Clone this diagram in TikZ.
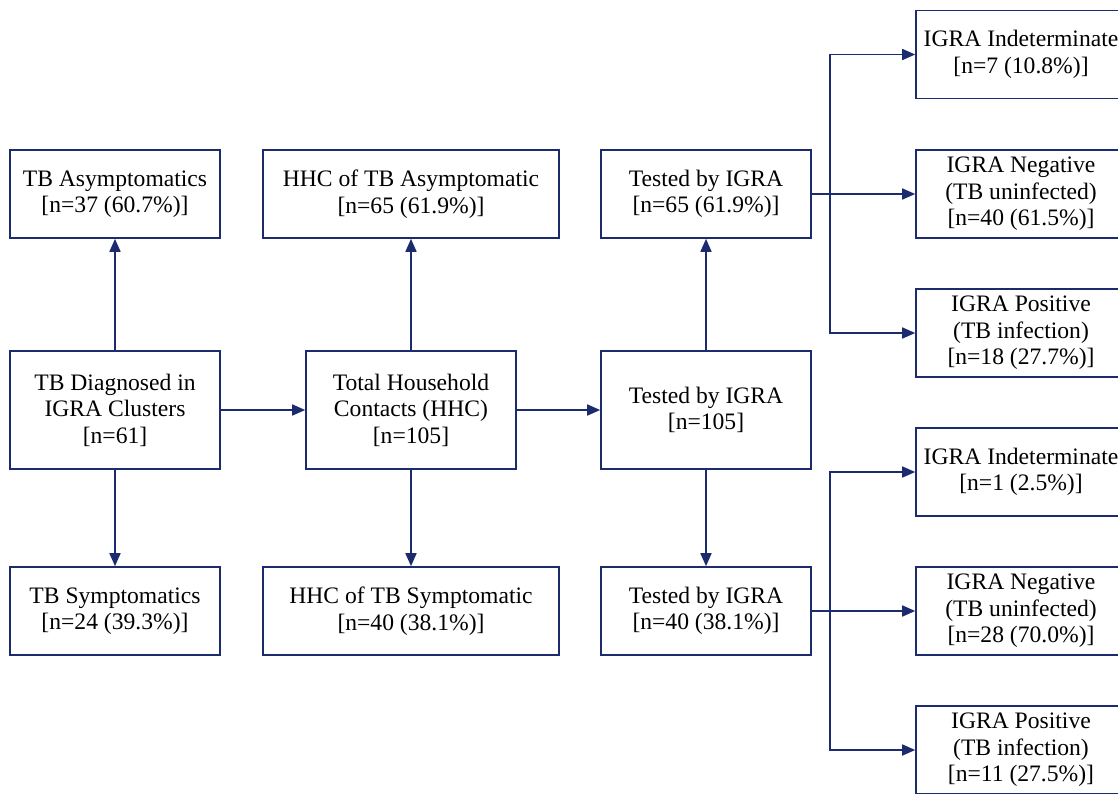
\documentclass[tikz,border=0pt]{standalone}
\usepackage{fontspec}
\setmainfont{Liberation Serif}
\usetikzlibrary{arrows.meta}
\definecolor{flownavy}{RGB}{28,42,110}

\begin{document}
\begin{tikzpicture}[x=1pt,y=-1pt,
  box/.style={draw=flownavy,line width=1.6pt,minimum width=210pt,minimum height=88pt,
    align=center,inner sep=2pt,font=\fontsize{23.6}{26.5}\selectfont},
  tallbox/.style={box,minimum height=118pt},
  link/.style={flownavy,line width=1.6pt},
  arr/.style={link,-{Triangle[length=13pt,width=11pt]}}]
\clip (0,0) rectangle (1118,793);
% column 1
\node[box] (asym) at (115,194) {TB Asymptomatics\\{}[n=37 (60.7\%)]};
\node[tallbox] (diag) at (115,410) {TB Diagnosed in\\IGRA Clusters\\{}[n=61]};
\node[box] (sym) at (115,611) {TB Symptomatics\\{}[n=24 (39.3\%)]};
% column 2
\node[box,minimum width=296pt] (hhcasym) at (411,194) {HHC of TB Asymptomatic\\{}[n=65 (61.9\%)]};
\node[tallbox] (hhc) at (411,410) {Total Household\\Contacts (HHC)\\{}[n=105]};
\node[box,minimum width=296pt] (hhcsym) at (411,611) {HHC of TB Symptomatic\\{}[n=40 (38.1\%)]};
% column 3
\node[box] (testa) at (706,194) {Tested by IGRA\\{}[n=65 (61.9\%)]};
\node[tallbox] (testall) at (706,410) {Tested by IGRA\\{}[n=105]};
\node[box] (tests) at (706,611) {Tested by IGRA\\{}[n=40 (38.1\%)]};
% column 4
\node[box] (inda) at (1021,54.5) {IGRA Indeterminate\\{}[n=7 (10.8\%)]};
\node[box] (nega) at (1021,194) {IGRA Negative\\(TB uninfected)\\{}[n=40 (61.5\%)]};
\node[box] (posa) at (1021,333) {IGRA Positive\\(TB infection)\\{}[n=18 (27.7\%)]};
\node[box] (inds) at (1021,472) {IGRA Indeterminate\\{}[n=1 (2.5\%)]};
\node[box] (negs) at (1021,611) {IGRA Negative\\(TB uninfected)\\{}[n=28 (70.0\%)]};
\node[box] (poss) at (1021,750) {IGRA Positive\\(TB infection)\\{}[n=11 (27.5\%)]};

\draw[arr] (diag) -- (asym);
\draw[arr] (diag) -- (sym);
\draw[arr] (diag) -- (hhc);
\draw[arr] (hhc) -- (hhcasym);
\draw[arr] (hhc) -- (hhcsym);
\draw[arr] (hhc) -- (testall);
\draw[arr] (testall) -- (testa);
\draw[arr] (testall) -- (tests);
% branches to results
\coordinate (ja) at (830,194);
\coordinate (js) at (830,611);
\draw[arr] (testa) -- (nega);
\draw[arr] (ja) |- (inda.west);
\draw[arr] (ja) |- (posa.west);
\draw[arr] (tests) -- (negs);
\draw[arr] (js) |- (inds.west);
\draw[arr] (js) |- (poss.west);
\end{tikzpicture}
\end{document}
